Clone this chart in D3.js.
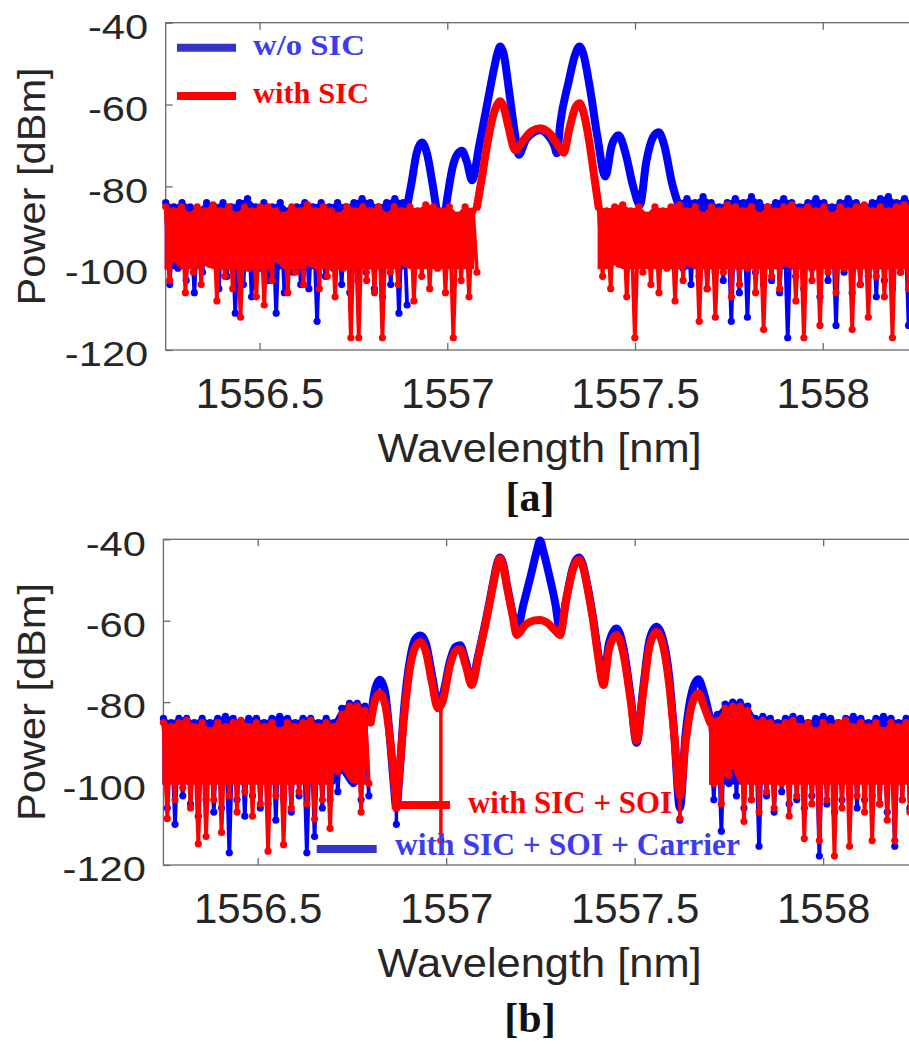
<!DOCTYPE html>
<html>
<head>
<meta charset="utf-8">
<script src="https://cdn.jsdelivr.net/npm/d3@7"></script>
<style>
    body { margin: 0; background: #fff; }
    svg { display: block; }
</style>
</head>
<body>
<script>
"use strict";

// Axis ticks (both panels)
const xTicks = [1556.5, 1557, 1557.5, 1558]
const yTicks = [-40, -60, -80, -100, -120]

// ---------- panel [a] ----------
// noise floor: peaks (hi) and dips (lo) of the trace
const aBlueSpanL = [1556.25, 1556.893]
const aBlueLeftHi = [-84, -85, -84, -85, -86, -84, -85, -84, -85, -84, -83, -85, -84, -85, -84, -86, -85, -84, -85, -84, -85, -84, -85, -84, -83, -84, -85, -84, -83, -84]
const aBlueLeftLo = [-104, -100, -103, -106, -101, -99, -105, -102, -111, -104, -107, -100, -103, -111, -106, -101, -104, -105, -113, -102, -100, -104, -106, -103, -101, -105, -107, -104, -111, -109]
const aBlueSpanR = [1557.617, 1558.25]
const aBlueRightHi = [-84, -83, -84, -82.5, -84, -85, -84, -83, -84, -82.5, -84, -85, -84, -83, -84, -85, -84, -83, -84, -85, -84, -83, -84, -85, -84, -83, -82.5, -84, -83, -84]
const aBlueRightLo = [-100, -104, -102, -105, -101, -103, -113, -106, -112, -101, -104, -103, -106, -117, -102, -105, -100, -107, -103, -114, -101, -106, -104, -102, -107, -103, -105, -101, -114, -104]

const aRedSpanL = [1556.25, 1557.079]
const aRedLeftHi = [-85, -86, -85, -87, -85, -86, -84.5, -86, -85, -87, -85, -86, -85, -85, -86, -87, -85, -86, -84.5, -86, -85, -86, -87, -85, -86, -85, -86, -85, -87, -85, -86, -85, -86, -84.5, -85, -86, -85, -87, -85, -86]
const aRedLeftLo = [-103, -98, -106, -101, -104, -99, -108, -102, -105, -112, -100, -107, -109, -103, -98, -106, -101, -104, -99, -105, -102, -107, -100, -117, -117, -103, -106, -117, -101, -104, -99, -108, -102, -105, -100, -106, -117, -103, -107, -101]
const aRedSpanR = [1557.403, 1558.25]
const aRedRightHi = [-85, -86, -85, -84.5, -86, -85, -87, -85, -86, -85, -84.5, -86, -85, -87, -85, -86, -84.5, -85, -86, -85, -87, -85, -86, -85, -84.5, -86, -85, -86, -85, -87, -85, -86, -85, -84.5, -86, -85, -86, -85, -84.5, -85]
const aRedRightLo = [-102, -105, -99, -107, -117, -101, -104, -106, -100, -108, -103, -99, -113, -105, -112, -101, -107, -104, -100, -106, -115, -102, -105, -99, -108, -117, -103, -114, -101, -106, -100, -115, -104, -112, -102, -107, -117, -101, -105, -103]

// signal lobes [wavelength nm, power dBm]
const aBlueLobe = [[1556.893, -85], [1556.905, -79], [1556.918, -72], [1556.932, -69.3], [1556.946, -72], [1556.960, -79], [1556.972, -86], [1556.985, -93], [1556.998, -84], [1557.015, -75], [1557.028, -72], [1557.039, -71.3], [1557.052, -74], [1557.066, -78.5], [1557.085, -70], [1557.105, -60.5], [1557.125, -51], [1557.135, -47], [1557.141, -45.8], [1557.150, -47.5], [1557.165, -57], [1557.180, -67], [1557.190, -72.3], [1557.210, -68.5], [1557.230, -66.8], [1557.248, -66.3], [1557.268, -67.5], [1557.285, -70], [1557.292, -71.9], [1557.301, -64.5], [1557.323, -54.5], [1557.340, -48], [1557.352, -45.8], [1557.362, -47.5], [1557.380, -56], [1557.400, -68], [1557.421, -77.6], [1557.438, -70], [1557.456, -67.5], [1557.475, -72], [1557.495, -80], [1557.513, -84.5], [1557.530, -74], [1557.548, -68], [1557.563, -66.8], [1557.578, -70], [1557.598, -79], [1557.617, -85]]
const aRedLobe = [[1557.079, -85], [1557.092, -78], [1557.105, -70.5], [1557.120, -63.5], [1557.133, -60], [1557.141, -59.2], [1557.150, -60.5], [1557.163, -65.5], [1557.181, -71.2], [1557.200, -69], [1557.225, -66.5], [1557.248, -65.8], [1557.272, -67], [1557.295, -70], [1557.310, -71.8], [1557.325, -66], [1557.340, -61], [1557.352, -59.7], [1557.363, -62], [1557.378, -69], [1557.392, -78], [1557.403, -85]]

// ---------- panel [b] ----------
const bSpanL = [1556.25, 1556.795]
const bBlueLeftHi = [-84, -85, -84, -84, -85, -84, -85, -84, -83.5, -84, -85, -84, -84, -85, -84, -83.5, -84, -85, -84, -84, -85, -84, -85, -81.5, -80.3, -80.3, -81]
const bBlueLeftLo = [-106, -110, -103, -105, -108, -104, -107, -106, -117, -104, -108, -103, -106, -105, -109, -104, -107, -103, -117, -113, -106, -104, -102, -97, -100, -104, -103]
const bRedLeftHi = [-85, -86, -85, -84.5, -86, -85, -87, -85, -86, -85, -84.5, -86, -85, -86, -85, -87, -85, -86, -85, -84.5, -86, -85, -86, -83, -81, -81, -82]
const bRedLeftLo = [-108.6, -104, -101, -106, -114.8, -113, -104, -112, -103, -107, -102, -108, -105, -116.6, -103, -115, -106, -102, -105, -108.7, -104, -111, -97, -96, -99, -107, -100]
const bSpanR = [1557.70, 1558.25]
const bBlueRightHi = [-83.5, -83, -80.5, -80, -80, -81, -84, -83.5, -84, -85, -84, -83.5, -84, -85, -84, -83.5, -84, -85, -84, -83.5, -84, -85, -84, -83.5, -84, -85, -84, -83.5]
const bBlueRightLo = [-104, -111.7, -100, -103, -106, -104, -115.4, -103, -107, -102, -105, -104, -106, -103, -117.8, -105, -107, -104, -102, -106, -104, -103, -105, -107, -115.4, -104, -106, -102]
const bRedRightHi = [-84, -84.5, -81.5, -81, -81, -82, -85, -84.5, -85, -86, -85, -84.5, -86, -85, -87, -85, -86, -85, -84.5, -86, -85, -86, -85, -87, -85, -86, -85, -84.5]
const bRedRightLo = [-100, -105, -98, -96, -109.3, -104, -107, -102, -106, -100, -108, -103, -113.5, -105, -114, -104, -117.8, -106, -115.4, -103, -107, -114, -105, -109, -114, -104, -107, -103]

const bBlueLobe = [[1556.800, -84], [1556.810, -77.5], [1556.824, -74.5], [1556.838, -77.5], [1556.850, -88], [1556.860, -99], [1556.868, -106], [1556.876, -98], [1556.888, -82], [1556.905, -69], [1556.918, -64.5], [1556.932, -63.6], [1556.946, -65.5], [1556.962, -73], [1556.978, -80], [1556.990, -78.5], [1557.010, -70], [1557.024, -66.5], [1557.037, -66], [1557.052, -70], [1557.068, -75], [1557.085, -68.5], [1557.105, -60], [1557.125, -50.5], [1557.135, -46], [1557.143, -44.5], [1557.151, -46], [1557.162, -51.5], [1557.177, -58.5], [1557.187, -62.5], [1557.205, -56], [1557.225, -48.7], [1557.240, -43], [1557.249, -40.3], [1557.258, -43], [1557.273, -48.7], [1557.290, -56], [1557.302, -62.5], [1557.318, -55], [1557.336, -47], [1557.345, -45], [1557.353, -44.5], [1557.362, -46], [1557.375, -51.5], [1557.390, -59.5], [1557.405, -69], [1557.417, -75], [1557.432, -65.5], [1557.452, -61.9], [1557.470, -66.5], [1557.490, -79], [1557.505, -90], [1557.522, -77], [1557.540, -64.5], [1557.558, -61.5], [1557.575, -64.5], [1557.592, -74], [1557.605, -88], [1557.620, -106], [1557.635, -88], [1557.652, -77.5], [1557.669, -74.4], [1557.684, -78], [1557.700, -84]]
const bRedLobe = [[1556.800, -85], [1556.810, -80], [1556.824, -77.8], [1556.838, -80.5], [1556.850, -88], [1556.860, -97], [1556.868, -104], [1556.876, -97], [1556.888, -84], [1556.905, -71], [1556.918, -66.5], [1556.932, -65.2], [1556.946, -67.5], [1556.962, -75], [1556.978, -81.5], [1556.990, -80], [1557.010, -71], [1557.024, -67.5], [1557.037, -67], [1557.052, -71], [1557.068, -75.8], [1557.085, -69], [1557.105, -60.5], [1557.125, -51], [1557.135, -46.5], [1557.143, -44.7], [1557.151, -46.5], [1557.162, -52], [1557.177, -59], [1557.187, -63.5], [1557.210, -61], [1557.232, -60], [1557.249, -59.8], [1557.268, -60.5], [1557.290, -62.5], [1557.302, -63.5], [1557.318, -55], [1557.336, -47.5], [1557.345, -45.5], [1557.353, -45], [1557.362, -46.5], [1557.375, -52], [1557.390, -60], [1557.405, -70], [1557.417, -75.8], [1557.432, -67], [1557.452, -63.5], [1557.470, -68], [1557.490, -80], [1557.505, -89.5], [1557.522, -78], [1557.540, -66], [1557.558, -62.8], [1557.575, -66], [1557.592, -76], [1557.605, -88], [1557.620, -103], [1557.635, -90], [1557.652, -80.5], [1557.669, -77.8], [1557.684, -81], [1557.700, -85]]

// thin drops below the lobes: [wavelength, from dBm, to dBm]
const bBlueDrops = [[1556.868, -106, -110], [1557.620, -106, -109]]
const bRedDrops = [[1556.868, -104, -106], [1556.986, -81, -114], [1557.620, -103, -108.6]]

// Legend labels
const aLegend = ["w/o SIC", "with SIC"]
const bLegend = ["with SIC + SOI", "with SIC + SOI + Carrier"];


(function () {
    const blue = "#0000ff"
    const red = "#ff0000"
    const axisFont = "'Liberation Sans', Arial, sans-serif"
    const serifFont = "'Liberation Serif', 'Times New Roman', serif"
    // the dense part of the noise trace looks solid down to about here
    const solidFloor = -100

    const svg = d3.select("body").append("svg")
        .attr("width", 909)
        .attr("height", 1045)

    // Scales for the two panels
    const xA = d3.scaleLinear().domain([1556.25, 1558.25]).range([165.7, 916.6])
    const yA = d3.scaleLinear().domain([-120, -40]).range([350, 22.7])
    const xB = d3.scaleLinear().domain([1556.25, 1558.25]).range([163.4, 917.4])
    const yB = d3.scaleLinear().domain([-120, -40]).range([865, 539.3])

    // Turn hi/lo lists into one zig-zag trace on an even wavelength grid
    function zig(span, hi, lo) {
        const n = hi.length + lo.length
        const step = (span[1] - span[0]) / (n - 1)
        const pts = []
        hi.forEach((h, k) => {
            pts.push([span[0] + 2 * k * step, h])
            if (k < lo.length) pts.push([span[0] + (2 * k + 1) * step, lo[k]])
        })
        return pts
    }

    // stretch text horizontally to mimic the picture
    function stretch(sel, k) {
        sel.each(function () {
            const w = this.getComputedTextLength()
            d3.select(this).attr("textLength", w * k).attr("lengthAdjust", "spacingAndGlyphs")
        })
    }

    function drawAxes(x, y) {
        const [x0, x1] = x.range()
        const [yb, yt] = y.range()
        const g = svg.append("g")

        g.append("rect")
            .attr("x", x0).attr("y", yt)
            .attr("width", x1 - x0).attr("height", yb - yt)
            .attr("fill", "none")
            .attr("stroke", "#6a6a6a")
            .attr("stroke-width", 1.3)

        const bottom = g.append("g")
            .attr("transform", "translate(0," + yb + ")")
            .call(d3.axisBottom(x).tickValues(xTicks).tickSizeInner(-7).tickSizeOuter(0).tickFormat(d => String(d)))
        const top = g.append("g")
            .attr("transform", "translate(0," + yt + ")")
            .call(d3.axisTop(x).tickValues(xTicks).tickSizeInner(-7).tickSizeOuter(0).tickFormat(""))
        const left = g.append("g")
            .attr("transform", "translate(" + x0 + ",0)")
            .call(d3.axisLeft(y).tickValues(yTicks).tickSizeInner(-7).tickSizeOuter(0).tickFormat(d => String(d)))
        const right = g.append("g")
            .attr("transform", "translate(" + x1 + ",0)")
            .call(d3.axisRight(y).tickValues(yTicks).tickSizeInner(-7).tickSizeOuter(0).tickFormat(""));

        [bottom, top, left, right].forEach(a => {
            a.select(".domain").remove()
            a.selectAll(".tick line").attr("stroke", "#6a6a6a").attr("stroke-width", 1.3)
        })

        bottom.selectAll("text")
            .attr("y", 57.5).attr("dy", 0)
            .attr("fill", "#262626")
            .style("font-family", axisFont)
            .style("font-size", "42px")

        left.selectAll("text")
            .attr("x", -17.5).attr("y", 15.7).attr("dy", 0)
            .attr("fill", "#262626")
            .style("font-family", axisFont)
            .style("font-size", "35px")
            .call(stretch, 1.19)
    }

    function drawTrace(x, y, color, noise, lobe, drops) {
        const line = d3.line().x(d => x(d[0])).y(d => y(d[1]))
        const band = d3.area()
            .x(d => x(d[0]))
            .y1(d => y(d[1]))
            .y0(d => y(d[2]))
        const g = svg.append("g")

        noise.forEach(n => {
            const pts = zig(n[0], n[1], n[2])
            // solid part of the noise band, between the peaks and the shallow dips
            const bandPts = pts.filter((d, i) => i % 2 === 0)
                .map((d, k) => [d[0], d[1], Math.max(n[2][Math.min(k, n[2].length - 1)], solidFloor)])
            g.append("path")
                .attr("d", band(bandPts))
                .attr("fill", color)
                .attr("stroke", color)
                .attr("stroke-width", 2)
            g.append("path")
                .attr("d", line(pts))
                .attr("fill", "none")
                .attr("stroke", color)
                .attr("stroke-width", 3.8)
                .attr("stroke-linejoin", "round")
            g.append("g").selectAll("circle")
                .data(pts)
                .join("circle")
                .attr("cx", d => x(d[0]))
                .attr("cy", d => y(d[1]))
                .attr("r", 3.6)
                .attr("fill", color)
        })

        g.append("path")
            .attr("d", line.curve(d3.curveMonotoneX)(lobe))
            .attr("fill", "none")
            .attr("stroke", color)
            .attr("stroke-width", 8)
            .attr("stroke-linecap", "round")
            .attr("stroke-linejoin", "round")

        g.selectAll(".drop")
            .data(drops)
            .join("line")
            .attr("x1", d => x(d[0])).attr("x2", d => x(d[0]))
            .attr("y1", d => y(d[1])).attr("y2", d => y(d[2]))
            .attr("stroke", color)
            .attr("stroke-width", 3.5)
        g.selectAll(".dropdot")
            .data(drops)
            .join("circle")
            .attr("cx", d => x(d[0]))
            .attr("cy", d => y(d[2]))
            .attr("r", 3.6)
            .attr("fill", color)
    }

    function labels(yCenter, xBase) {
        svg.append("text")
            .attr("transform", "translate(45," + yCenter + ")rotate(-90)")
            .attr("text-anchor", "middle")
            .attr("fill", "#262626")
            .style("font-family", axisFont)
            .style("font-size", "39.5px")
            .attr("textLength", 238)
            .attr("lengthAdjust", "spacingAndGlyphs")
            .text("Power [dBm]")
        svg.append("text")
            .attr("x", 539.6).attr("y", xBase)
            .attr("text-anchor", "middle")
            .attr("fill", "#262626")
            .style("font-family", axisFont)
            .style("font-size", "40px")
            .attr("textLength", 324)
            .attr("lengthAdjust", "spacingAndGlyphs")
            .text("Wavelength [nm]")
    }

    function title(txt, base) {
        svg.append("text")
            .attr("x", 530).attr("y", base)
            .attr("text-anchor", "middle")
            .attr("fill", "#111")
            .style("font-family", serifFont)
            .style("font-weight", "bold")
            .style("font-size", "42px")
            .text(txt)
    }

    function legendItem(x1, x2, yLine, lineColor, tx, tBase, tWidth, txtColor, size, txt) {
        svg.append("line")
            .attr("x1", x1).attr("x2", x2)
            .attr("y1", yLine).attr("y2", yLine)
            .attr("stroke", lineColor)
            .attr("stroke-width", 8)
        svg.append("text")
            .attr("x", tx).attr("y", tBase)
            .attr("fill", txtColor)
            .style("font-family", serifFont)
            .style("font-weight", "bold")
            .style("font-size", size + "px")
            .attr("textLength", tWidth)
            .attr("lengthAdjust", "spacingAndGlyphs")
            .text(txt)
    }

    // Panel [a]
    drawAxes(xA, yA)
    drawTrace(xA, yA, blue,
        [[aBlueSpanL, aBlueLeftHi, aBlueLeftLo], [aBlueSpanR, aBlueRightHi, aBlueRightLo]],
        aBlueLobe, [])
    drawTrace(xA, yA, red,
        [[aRedSpanL, aRedLeftHi, aRedLeftLo], [aRedSpanR, aRedRightHi, aRedRightLo]],
        aRedLobe, [])
    labels(186.4, 461.6)
    title("[a]", 511)
    legendItem(177, 236, 47.7, "#3333cc", 253, 55, 112, "#3c3cf0", 30, aLegend[0])
    legendItem(177, 236, 96, red, 253, 103.3, 116, red, 30, aLegend[1])

    // Panel [b]
    drawAxes(xB, yB)
    drawTrace(xB, yB, blue,
        [[bSpanL, bBlueLeftHi, bBlueLeftLo], [bSpanR, bBlueRightHi, bBlueRightLo]],
        bBlueLobe, bBlueDrops)
    drawTrace(xB, yB, red,
        [[bSpanL, bRedLeftHi, bRedLeftLo], [bSpanR, bRedRightHi, bRedRightLo]],
        bRedLobe, bRedDrops)
    labels(702, 977)
    title("[b]", 1032)
    legendItem(391.7, 450, 805, red, 468, 812.5, 204, red, 32, bLegend[0])
    legendItem(316.7, 376.7, 849, "#3333cc", 395, 855, 345, "#3c3cf0", 32, bLegend[1])
})()
</script>
</body>
</html>
